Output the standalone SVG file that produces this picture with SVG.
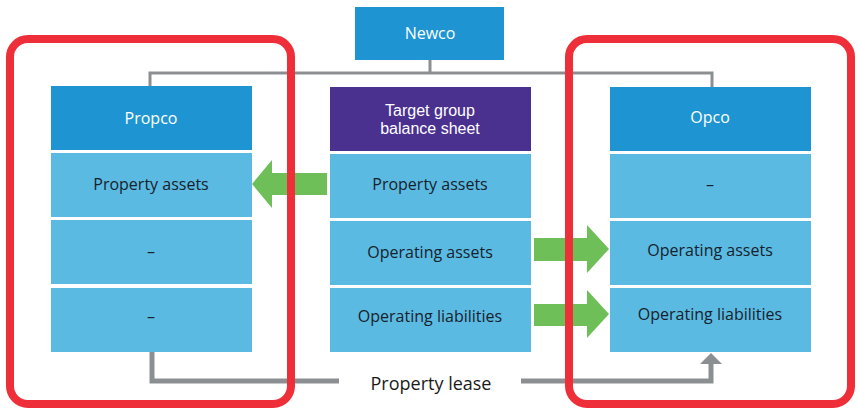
<svg xmlns="http://www.w3.org/2000/svg" width="859" height="409" viewBox="0 0 859 409">
<defs>
<style>
.hdr{fill:#1e95d2}
.row{fill:#5bbae2}
.tg{fill:#4a3190}
.ht{font-family:"Open Sans","Liberation Sans",sans-serif;font-size:16px;fill:#ffffff;text-anchor:middle}
.ht2{font-family:"Liberation Sans",Arial,sans-serif;font-size:16px;fill:#ffffff;text-anchor:middle}
.rt{font-family:"Open Sans","Liberation Sans",sans-serif;font-size:16px;fill:#17222c;text-anchor:middle}
.lt{font-family:"Open Sans","Liberation Sans",sans-serif;font-size:18px;fill:#1a1a1a;text-anchor:middle}
.frame{fill:none;stroke:#ee2e38;stroke-width:8}
.tree{fill:none;stroke:#8c8f92;stroke-width:3}
.lease{fill:none;stroke:#8c8f92;stroke-width:5}
.move{fill:#6fbf58}
</style>
</defs>
<rect width="859" height="409" fill="#ffffff"/>

<!-- ownership lines, lease line and asset transfer arrows -->
<g id="connectors">
<path class="tree" d="M430 60 V73 M150 86 V73 H712 V87"/>
<path class="lease" d="M152 352 V381 H339 M521 381 H711 V362"/>
<polygon fill="#8c8f92" points="700,364 722,364 711,353"/>
<polygon class="move" points="327,173 272,173 272,160 252,184 272,208 272,195 327,195"/>
<polygon class="move" points="534,238 587,238 587,225 609,249 587,273 587,261 534,261"/>
<polygon class="move" points="534,304 587,304 587,290 609,314 587,338 587,326 534,326"/>
</g>

<g id="newco">
<rect class="hdr" x="355" y="7" width="149" height="53"/>
<text class="ht" x="430" y="39">Newco</text>
</g>

<g id="propco">
<rect class="hdr" x="51" y="86" width="201" height="64"/>
<text class="ht" x="151" y="124">Propco</text>
<rect class="row" x="51" y="153" width="201" height="64"/>
<text class="rt" x="151" y="190">Property assets</text>
<rect class="row" x="51" y="220" width="201" height="64"/>
<text class="rt" x="151" y="257">–</text>
<rect class="row" x="51" y="288" width="201" height="64"/>
<text class="rt" x="151" y="322">–</text>
</g>

<g id="target">
<rect class="tg" x="330" y="87" width="201" height="64"/>
<text class="ht2" x="430" y="116">Target group</text>
<text class="ht2" x="430" y="134">balance sheet</text>
<rect class="row" x="330" y="154" width="201" height="64"/>
<text class="rt" x="430" y="190">Property assets</text>
<rect class="row" x="330" y="221" width="201" height="64"/>
<text class="rt" x="430" y="258">Operating assets</text>
<rect class="row" x="330" y="288" width="201" height="64"/>
<text class="rt" x="430" y="322">Operating liabilities</text>
</g>

<g id="opco">
<rect class="hdr" x="610" y="87" width="201" height="64"/>
<text class="ht" x="710" y="123">Opco</text>
<rect class="row" x="610" y="154" width="201" height="64"/>
<text class="rt" x="710" y="190">–</text>
<rect class="row" x="610" y="221" width="201" height="64"/>
<text class="rt" x="710" y="256">Operating assets</text>
<rect class="row" x="610" y="288" width="201" height="64"/>
<text class="rt" x="710" y="320">Operating liabilities</text>
</g>

<g id="lease-label">
<text class="lt" x="431" y="390">Property lease</text>
</g>

<g id="frames">
<rect class="frame" x="10" y="39" width="281" height="365" rx="18"/>
<rect class="frame" x="569" y="39" width="282" height="365" rx="18"/>
</g>
</svg>
